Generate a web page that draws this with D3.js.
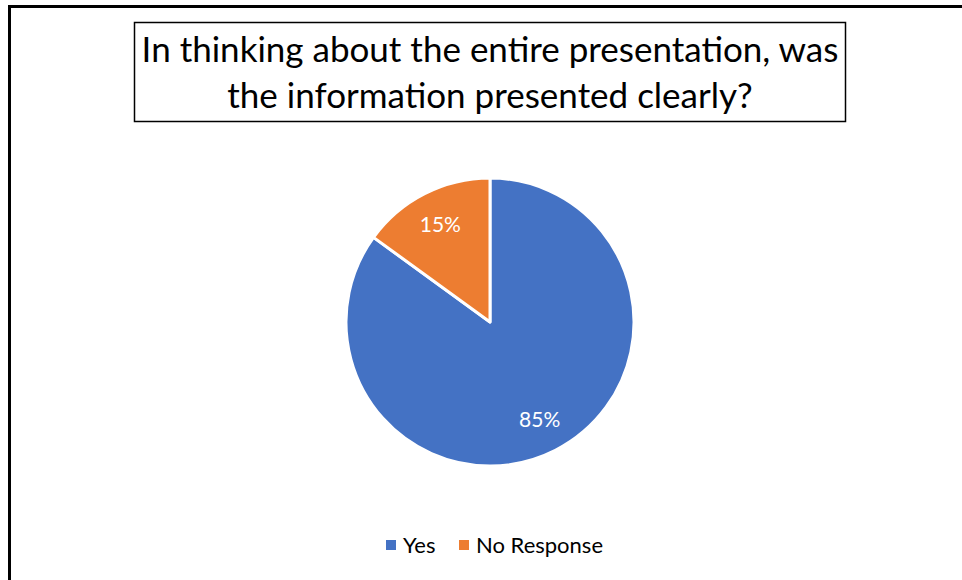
<!DOCTYPE html>
<html>
<head>
<meta charset="utf-8">
<script src="https://cdn.jsdelivr.net/npm/d3@7"></script>
<style>
  body { margin: 0; background: #fff; }
  svg { display: block; font-family: Lato, "Open Sans", sans-serif; }
</style>
</head>
<body>
<script>
// data
let categories = ["Yes", "No Response"];
let values = [85, 15];
let colors = ["#4472C4", "#ED7D31"];
let titleLines = ["In thinking about the entire presentation, was", "the information presented clearly?"];

let width = 962, height = 580;

let svg = d3.select('body')
    .append('svg')
    .attr('width', width)
    .attr('height', height);

// chart border (only left and top are in view)
svg.append('path')
    .attr('d', 'M9.5,' + height + ' L9.5,6.5 L' + width + ',6.5')
    .attr('fill', 'none')
    .attr('stroke', 'black')
    .attr('stroke-width', 3);

// title box
svg.append('rect')
    .attr('x', 134.5)
    .attr('y', 22.5)
    .attr('width', 711)
    .attr('height', 99)
    .attr('fill', 'white')
    .attr('stroke', 'black')
    .attr('stroke-width', 1.5);

svg.selectAll('.title')
    .data(titleLines)
    .enter()
    .append('text')
    .attr('class', 'title')
    .attr('x', 490)
    .attr('y', (d, i) => 62 + i * 46)
    .attr('text-anchor', 'middle')
    .attr('font-size', 35)
    .attr('fill', 'black')
    .text(d => d);

// pie
let cx = 490, cy = 322, radius = 144;

let pie = d3.pie()
    .sort(null)
    .startAngle(0)
    .endAngle(2 * Math.PI)
    .value(d => d);

let arc = d3.arc()
    .innerRadius(0)
    .outerRadius(radius);

let labelArc = d3.arc()
    .innerRadius(radius * 0.76)
    .outerRadius(radius * 0.76);

let g = svg.append('g')
    .attr('transform', 'translate(' + cx + ',' + cy + ')');

let arcs = pie(values);

g.selectAll('path')
    .data(arcs)
    .enter()
    .append('path')
    .attr('d', arc)
    .attr('fill', (d, i) => colors[i])
    .attr('stroke', 'white')
    .attr('stroke-width', 3)
    .attr('stroke-linejoin', 'round');

let total = d3.sum(values);
g.selectAll('.lbl')
    .data(arcs)
    .enter()
    .append('text')
    .attr('class', 'lbl')
    .attr('transform', d => 'translate(' + labelArc.centroid(d) + ')')
    .attr('text-anchor', 'middle')
    .attr('dy', '0.35em')
    .attr('font-size', 21)
    .attr('fill', 'white')
    .text(d => Math.round(d.value / total * 100) + '%');

// legend
let legendX = [386, 459];
let legend = svg.selectAll('.legend')
    .data(categories)
    .enter()
    .append('g')
    .attr('class', 'legend')
    .attr('transform', (d, i) => 'translate(' + legendX[i] + ',545)');

legend.append('rect')
    .attr('x', 0)
    .attr('y', -5)
    .attr('width', 10)
    .attr('height', 10)
    .attr('fill', (d, i) => colors[i]);

legend.append('text')
    .attr('x', 17)
    .attr('dy', '0.35em')
    .attr('font-size', 22)
    .attr('fill', 'black')
    .text(d => d);
</script>
</body>
</html>
